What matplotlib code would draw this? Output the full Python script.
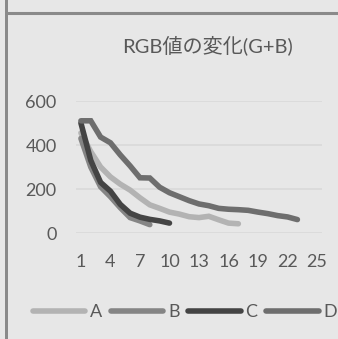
import matplotlib
matplotlib.use("Agg")
import matplotlib.pyplot as plt
from matplotlib.lines import Line2D
from matplotlib.patches import Rectangle

title = "RGB値の変化(G+B)"
series_names = ["A", "B", "C", "D"]
A = [455, 370, 300, 255, 222, 195, 160, 128, 112, 95, 86, 74, 70, 76, 60, 45, 42]
B = [430, 300, 210, 165, 115, 70, 55, 38]
C = [500, 330, 230, 190, 130, 90, 72, 62, 55, 45]
D = [510, 510, 436, 410, 355, 305, 251, 250, 208, 183, 165, 147, 132, 124, 112,
     108, 106, 103, 95, 88, 79, 73, 61]
xticks = [1, 4, 7, 10, 13, 16, 19, 22, 25]
yticks = [0, 200, 400, 600]
colors = ["#b3b3b3", "#858585", "#444444", "#6e6e6e"]

bg = "#e7e7e7"
txt = "#595959"
fonts = ["Lato", "Noto Sans CJK JP"]
plt.rcParams["font.family"] = fonts

fig = plt.figure(figsize=(3.38, 3.39), dpi=100, facecolor=bg, linewidth=0)
ax = fig.add_axes([76/338, 1-233/339, 246/338, 132/339], facecolor=bg)

for name, vals, c in zip(series_names, [A, B, C, D], colors):
    xs = list(range(1, len(vals)+1))
    ax.plot(xs, vals, color=c, lw=4, solid_capstyle="round",
            solid_joinstyle="miter", label=name, zorder=3, clip_on=False)

ax.set_xlim(0.5, 25.5)
ax.set_ylim(0, 600)
ax.set_xticks(xticks)
ax.set_yticks(yticks)
ax.grid(axis="y", color="#d9d9d9", lw=1.2, zorder=0)
ax.grid(axis="x", visible=False)
for s in ax.spines.values():
    s.set_visible(False)
ax.tick_params(length=0, labelsize=13, labelcolor=txt)
ax.tick_params(axis="x", pad=15)
ax.tick_params(axis="y", pad=14)

fig.text(207/338, 1-45/339, title, ha="center", va="center", fontsize=14.5,
         color=txt, family=fonts)

handles = [Line2D([], [], color=c, lw=4, solid_capstyle="round") for c in colors]
leg = fig.legend(handles, series_names, loc="center left",
                 bbox_to_anchor=(33/338, 1-312/339), ncol=4, frameon=False,
                 fontsize=13, handlelength=2.9, handletextpad=0.25,
                 columnspacing=0.5, borderpad=0, borderaxespad=0)
for t in leg.get_texts():
    t.set_color(txt)

# frame lines (top and left only)
fig.add_artist(Line2D([6/338, 1.02], [1-12.5/339, 1-12.5/339], color="#8a8a8a", lw=2.2,
                      solid_capstyle="butt", transform=fig.transFigure, zorder=60))
fig.add_artist(Rectangle((5/338, -0.01), 2.5/338, 1.02, facecolor="#8a8a8a",
                         edgecolor="none", transform=fig.transFigure, zorder=60))

fig.savefig("out.png", dpi=100, facecolor=bg)
